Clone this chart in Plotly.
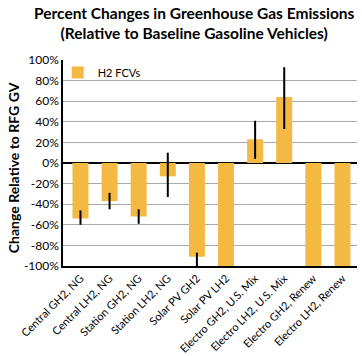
import plotly.graph_objects as go

categories = ["Central GH2, NG", "Central LH2, NG", "Station GH2, NG", "Station LH2, NG",
              "Solar PV GH2", "Solar PV LH2", "Electro GH2, U.S. Mix", "Electro LH2, U.S. Mix",
              "Electro GH2, Renew", "Electro LH2, Renew"]
values = [-54, -37, -52, -13, -91, -100, 23, 64, -100, -100]
err_plus = [8, 8, 7, 23, 4, 0, 18, 29, 0, 0]
err_minus = [6, 8, 7, 20, 9, 0, 19, 31, 0, 0]
tick_vals = [100, 80, 60, 40, 20, 0, -20, -40, -60, -80, -100]
tick_text = ["100%", "80%", "60%", "40%", "20%", "0%", "-20%", "-40%", "-60%", "-80%", "-100%"]

font = "Lato, Open Sans, sans-serif"

fig = go.Figure()
fig.add_trace(go.Bar(
    x=categories, y=values, name="H2 FCVs",
    marker=dict(color="#F4B942", line=dict(width=0)),
    width=0.55,
    error_y=dict(type="data", symmetric=False, array=err_plus, arrayminus=err_minus,
                 color="black", thickness=2, width=0),
    showlegend=True,
))

fig.update_layout(
    width=362, height=356,
    margin=dict(l=63, r=5, t=60, b=90),
    paper_bgcolor="white", plot_bgcolor="white",
    font=dict(family=font, color="black", size=11),
    showlegend=True,
    legend=dict(x=-0.018, y=1.01, xanchor="left", yanchor="top", bgcolor="rgba(0,0,0,0)",
                font=dict(size=11, family=font), itemwidth=30),
    annotations=[
        dict(text="<b>Percent Changes in Greenhouse Gas Emissions<br>(Relative to Baseline Gasoline Vehicles)</b>",
             xref="paper", yref="paper", x=0.446, y=1.28, xanchor="center", yanchor="top",
             showarrow=False, align="center",
             font=dict(family=font, size=15.5, color="black")),
        dict(text="<b>Change Relative to RFG GV</b>", textangle=-90,
             xref="paper", yref="paper", x=-0.17, y=0.475, xanchor="center", yanchor="middle",
             showarrow=False, font=dict(family=font, size=14, color="black")),
    ],
)
fig.update_xaxes(
    showline=True, linecolor="black", linewidth=1.5, tickangle=-45,
    ticks="", showgrid=False, tickfont=dict(size=11, family=font),
    range=[-0.6, 9.5], automargin=False,
)
fig.update_yaxes(
    range=[-100, 100], tickvals=tick_vals, ticktext=tick_text,
    showline=True, linecolor="black", linewidth=1.5,
    showgrid=True, gridcolor="#AAAAAA", gridwidth=1,
    zeroline=True, zerolinecolor="black", zerolinewidth=1.5,
    ticks="", tickfont=dict(size=12, family=font), automargin=False,
)
fig.write_html("out.html")
